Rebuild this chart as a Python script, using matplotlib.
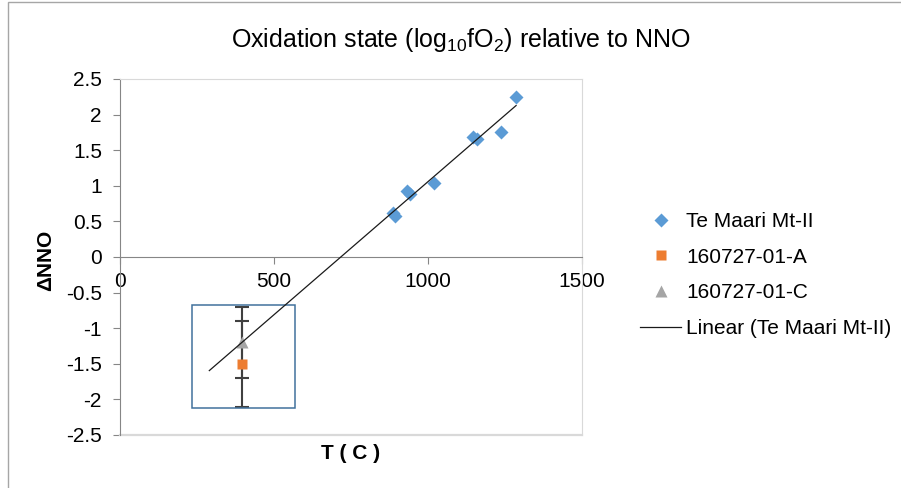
import numpy as np
import matplotlib.pyplot as plt
from matplotlib.patches import Rectangle

plt.rcParams['font.family'] = ['Liberation Sans', 'DejaVu Sans']
plt.rcParams['mathtext.default'] = 'regular'

# Te Maari Mt-II data
t_maari = [885, 894, 933, 943, 1021, 1147, 1160, 1238, 1286]
dnno_maari = [0.62, 0.58, 0.93, 0.89, 1.04, 1.69, 1.66, 1.76, 2.25]

# samples 160727-01-A / -C with error bars
t_a = [395]
dnno_a = [-1.5]
err_a = [0.6]
t_c = [395]
dnno_c = [-1.2]
err_c = [0.5]

# linear trend, extended backwards (forecast) down to this T
trend_start = 290

# highlight box around the samples
box_x = [234, 567]
box_y = [-2.12, -0.67]

xticks = [0, 500, 1000, 1500]
yticks = [-2.5, -2, -1.5, -1, -0.5, 0, 0.5, 1, 1.5, 2, 2.5]

fs = 15

fig = plt.figure(figsize=(9.01, 4.88), dpi=100)
ax = fig.add_axes([120/901, 1-435/488, 462/901, 356/488])

# outer chart border (only top and left visible)
fig.patches.append(Rectangle((8/901, -0.1), 1.2, 1.1 - 1.5/488, transform=fig.transFigure,
                             fill=False, edgecolor='#a6a6a6', lw=1.0))

# markers (legend entries)
ax.plot(t_maari, dnno_maari, 'D', color='#5b9bd5', ms=7, mec='none',
        label='Te Maari Mt-II', zorder=4)
ax.plot(t_a, dnno_a, 's', color='#ed7d31', ms=7.5, mec='none',
        label='160727-01-A', zorder=4)
ax.plot(t_c, dnno_c, '^', color='#a5a5a5', ms=8, mec='none',
        label='160727-01-C', zorder=4)

# error bars, no legend
ax.errorbar(t_a, dnno_a, yerr=err_a, fmt='none', ecolor='#404040',
            elinewidth=1.5, capsize=4.7, capthick=1.5, zorder=3)
ax.errorbar(t_c, dnno_c, yerr=err_c, fmt='none', ecolor='#404040',
            elinewidth=1.5, capsize=4.7, capthick=1.5, zorder=3)

p = np.polyfit(t_maari, dnno_maari, 1)
xt = np.array([trend_start, max(t_maari)])
ax.plot(xt, np.polyval(p, xt), color='#1a1a1a', lw=0.9,
        label='Linear (Te Maari Mt-II)', zorder=5)

ax.add_patch(Rectangle((box_x[0], box_y[0]), box_x[1]-box_x[0], box_y[1]-box_y[0],
                       fill=False, edgecolor='#41719c', lw=1.1, zorder=3))

ax.set_xlim(0, 1500)
ax.set_ylim(-2.5, 2.5)
ax.set_xticks(xticks)
ax.set_yticks(yticks)
ax.set_yticklabels([f'{v:g}' for v in yticks])

# axes cross at zero, plot area frame in light grey
ax.spines['bottom'].set_position(('data', 0))
ax.spines['left'].set_position(('data', 0))
ax.spines['bottom'].set_color('#868686')
ax.spines['left'].set_color('#868686')
ax.spines['top'].set_color('#d9d9d9')
ax.spines['right'].set_color('#d9d9d9')
ax.axhline(-2.5, color='#d9d9d9', lw=1.6, clip_on=False)
ax.tick_params(axis='both', direction='out', length=5, color='#868686',
               labelsize=fs, labelcolor='#000000')
ax.tick_params(axis='y', pad=8)
ax.tick_params(axis='x', pad=6)

ax.set_xlabel('T ( C )', fontsize=fs, fontweight='bold')
ax.set_ylabel('ΔNNO', fontsize=fs, fontweight='bold')
ax.xaxis.set_label_coords(0.5, -0.025)
ax.yaxis.set_label_coords(-0.14, 0.49)

fig.text(461/901, 1-40/488, 'Oxidation state (log$_{10}$fO$_2$) relative to NNO',
         fontsize=18, ha='center', va='center')

ax.legend(loc='center left', bbox_to_anchor=(630/901, 1-275/488),
          bbox_transform=fig.transFigure, frameon=False, fontsize=fs,
          labelspacing=0.8, handlelength=1.95, handletextpad=0.25, borderpad=0)

plt.savefig('out.png', dpi=100)
